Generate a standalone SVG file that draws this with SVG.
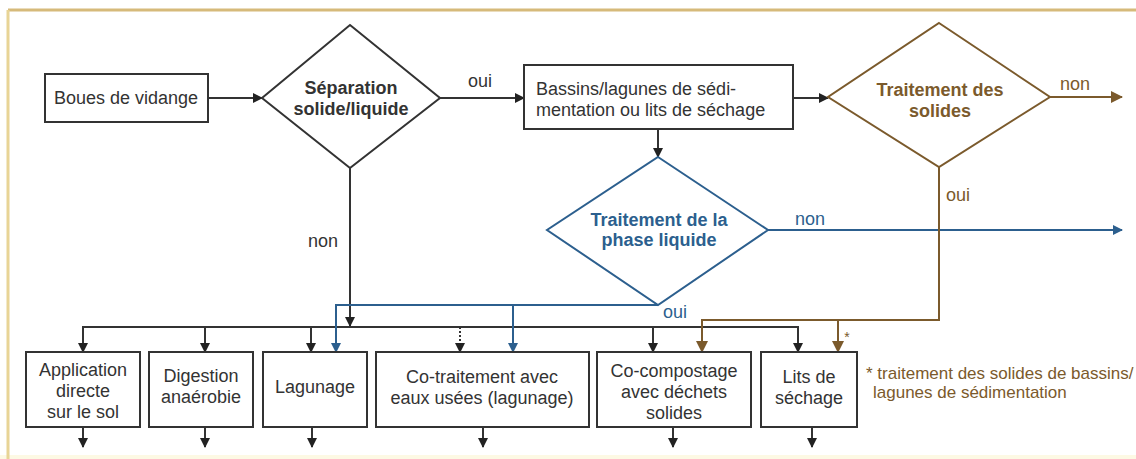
<svg xmlns="http://www.w3.org/2000/svg" width="1136" height="459" viewBox="0 0 1136 459">
<defs>
<style>
text{font-family:"Liberation Sans",Arial,sans-serif;font-size:18px;fill:#333;text-anchor:middle}
.b{font-weight:bold}
.l{text-anchor:start}
.box{fill:#fff;stroke:#333;stroke-width:2}
.dk{fill:#fff;stroke:#333;stroke-width:2}
.db{fill:#fff;stroke:#2c5f8e;stroke-width:2}
.dr{fill:#fff;stroke:#7b5a2c;stroke-width:2}
.k{stroke:#333;stroke-width:2;fill:none}
.bl{stroke:#2c5f8e;stroke-width:2;fill:none}
.br{stroke:#7b5a2c;stroke-width:2;fill:none}
.tb{fill:#2c5f8e}
.tr{fill:#7b5a2c}
.fn{font-size:17px;fill:#7b5a2c}
</style>
<marker id="ak" markerWidth="10" markerHeight="10" refX="9" refY="5" orient="auto" markerUnits="userSpaceOnUse"><path d="M0,0 L10,5 L0,10 Z" fill="#222"/></marker>
<marker id="ab" markerWidth="10" markerHeight="10" refX="9" refY="5" orient="auto" markerUnits="userSpaceOnUse"><path d="M0,0 L10,5 L0,10 Z" fill="#2c5f8e"/></marker>
<marker id="ar" markerWidth="12" markerHeight="12" refX="11" refY="6" orient="auto" markerUnits="userSpaceOnUse"><path d="M0,0 L12,6 L0,12 Z" fill="#7b5a2c"/></marker>
</defs>
<rect x="0" y="0" width="1136" height="459" fill="#fff"/>
<rect x="0" y="455" width="1136" height="4" fill="#fdf9e4"/>
<line x1="8" y1="10" x2="1136" y2="10" stroke="#d6ba7a" stroke-width="3"/>
<line x1="8" y1="10" x2="8" y2="459" stroke="#e8d496" stroke-width="3"/>

<g id="connectors">
<line class="k" x1="208" y1="98" x2="262" y2="98" marker-end="url(#ak)"/>
<line class="k" x1="440" y1="98" x2="524" y2="98" marker-end="url(#ak)"/>
<line class="k" x1="793" y1="98" x2="828" y2="98" marker-end="url(#ak)"/>
<line class="k" x1="658" y1="129" x2="658" y2="157" marker-end="url(#ak)"/>
<line class="k" x1="350" y1="168" x2="350" y2="326" marker-end="url(#ak)"/>
<line class="k" x1="82" y1="327" x2="799" y2="327"/>
<line class="k" x1="83" y1="326" x2="83" y2="352" marker-end="url(#ak)"/>
<line class="k" x1="205" y1="327" x2="205" y2="352" marker-end="url(#ak)"/>
<line class="k" x1="311" y1="327" x2="311" y2="352" marker-end="url(#ak)"/>
<line class="k" x1="460" y1="327" x2="460" y2="352" stroke-width="1.2" stroke-dasharray="2,2" marker-end="url(#ak)"/>
<line class="k" x1="653" y1="327" x2="653" y2="352" marker-end="url(#ak)"/>
<line class="k" x1="798" y1="326" x2="798" y2="352" marker-end="url(#ak)"/>
<line class="k" x1="83" y1="427" x2="83" y2="447" marker-end="url(#ak)"/>
<line class="k" x1="205" y1="427" x2="205" y2="447" marker-end="url(#ak)"/>
<line class="k" x1="312" y1="427" x2="312" y2="447" marker-end="url(#ak)"/>
<line class="k" x1="483" y1="427" x2="483" y2="447" marker-end="url(#ak)"/>
<line class="k" x1="673" y1="427" x2="673" y2="447" marker-end="url(#ak)"/>
<line class="k" x1="812" y1="427" x2="812" y2="447" marker-end="url(#ak)"/>
<line class="bl" x1="768" y1="230" x2="1122" y2="230" marker-end="url(#ab)"/>
<path class="bl" d="M658,305 H336 V352" marker-end="url(#ab)"/>
<line class="bl" x1="513" y1="305" x2="513" y2="352" marker-end="url(#ab)"/>
<line class="br" x1="1050" y1="97" x2="1122" y2="97" marker-end="url(#ar)"/>
<path class="br" d="M939,167 V320 H702 V352" marker-end="url(#ar)"/>
<line class="br" x1="838" y1="320" x2="838" y2="352" marker-end="url(#ar)"/>
<text x="480" y="87">oui</text>
<text x="323" y="247">non</text>
<text class="tb" x="810" y="225">non</text>
<text class="tb l" x="663" y="318">oui</text>
<text class="tr" x="1075" y="90">non</text>
<text class="tr l" x="946" y="201">oui</text>
<text class="tr" x="847" y="342" style="font-size:14px">*</text>
</g>

<g id="boues"><rect class="box" x="45" y="74" width="163" height="48"/><text x="126" y="104">Boues de vidange</text></g>
<g id="separation"><polygon class="dk" points="350,25 440,98 350,168 262,98"/><text class="b" x="351" y="94">Séparation</text><text class="b" x="351" y="115">solide/liquide</text></g>
<g id="bassins"><rect class="box" x="524" y="65" width="269" height="64"/><text class="l" x="536" y="95">Bassins/lagunes de sédi-</text><text class="l" x="536" y="116">mentation ou lits de séchage</text></g>
<g id="solides"><polygon class="dr" points="939,23 1050,97 939,167 828,97"/><text class="b tr" x="940" y="96">Traitement des</text><text class="b tr" x="940" y="117">solides</text></g>
<g id="liquide"><polygon class="db" points="658,157 768,230 658,305 547,230"/><text class="b tb" x="659" y="226">Traitement de la</text><text class="b tb" x="659" y="246">phase liquide</text></g>

<g id="application"><rect class="box" x="26" y="352" width="114" height="75"/><text x="83" y="376">Application</text><text x="83" y="397">directe</text><text x="83" y="418">sur le sol</text></g>
<g id="digestion"><rect class="box" x="149" y="352" width="104" height="75"/><text x="201" y="382">Digestion</text><text x="201" y="403">anaérobie</text></g>
<g id="lagunage"><rect class="box" x="263" y="352" width="104" height="75"/><text x="315" y="393">Lagunage</text></g>
<g id="cotraitement"><rect class="box" x="376" y="352" width="213" height="75"/><text x="482" y="383">Co-traitement avec</text><text x="482" y="404">eaux usées (lagunage)</text></g>
<g id="cocompostage"><rect class="box" x="597" y="352" width="154" height="75"/><text x="674" y="377">Co-compostage</text><text x="674" y="398">avec déchets</text><text x="674" y="419">solides</text></g>
<g id="lits"><rect class="box" x="761" y="352" width="96" height="75"/><text x="809" y="383">Lits de</text><text x="809" y="404">séchage</text></g>

<g id="footnote"><text class="fn l" x="866" y="379">* traitement des solides de bassins/</text><text class="fn l" x="873" y="398">lagunes de sédimentation</text></g>
</svg>
